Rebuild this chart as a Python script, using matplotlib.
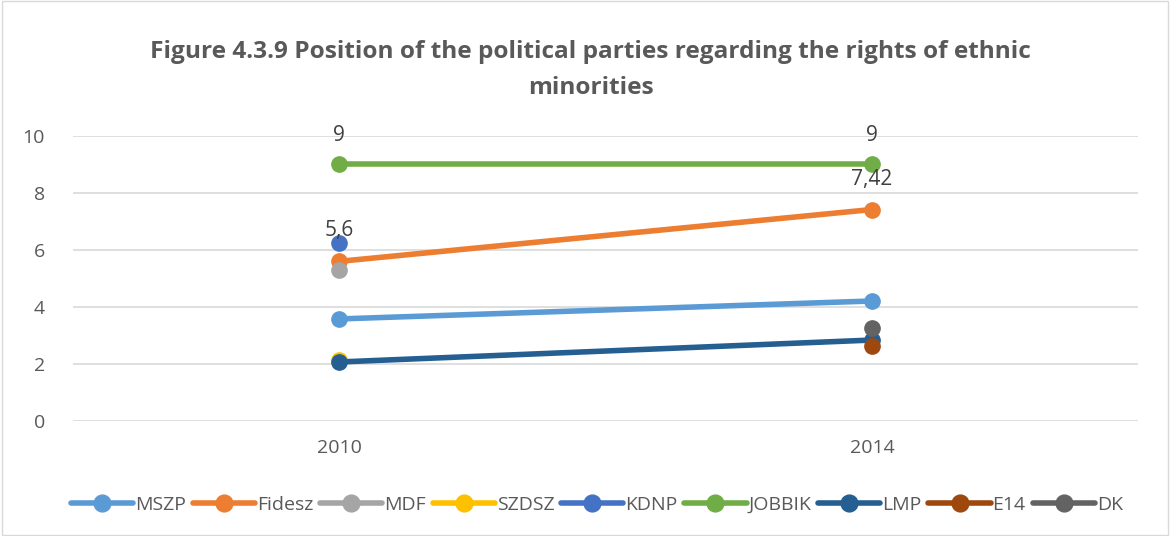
import matplotlib.pyplot as plt
import numpy as np

years = ['2010', '2014']
parties = ['MSZP', 'Fidesz', 'MDF', 'SZDSZ', 'KDNP', 'JOBBIK', 'LMP', 'E14', 'DK']
mszp = [3.58, 4.21]
fidesz = [5.6, 7.42]
mdf = [5.3, np.nan]
szdsz = [2.15, np.nan]
kdnp = [6.25, np.nan]
jobbik = [9, 9]
lmp = [2.07, 2.84]
e14 = [np.nan, 2.63]
dk = [np.nan, 3.26]
colors = ['#5B9BD5', '#ED7D31', '#A5A5A5', '#FFC000', '#4472C4',
          '#70AD47', '#255E91', '#9E480E', '#636363']

series = [mszp, fidesz, mdf, szdsz, kdnp, jobbik, lmp, e14, dk]

plt.rcParams['font.family'] = ['Open Sans', 'DejaVu Sans']

fig = plt.figure(figsize=(11.7, 5.36), dpi=100)
ax = fig.add_axes([0.062, 0.2146, 0.911, 0.5317])

x = np.array([0.5, 1.5])
for name, vals, c in zip(parties, series, colors):
    ax.plot(x, vals, color=c, lw=4, marker='o', ms=11, label=name,
            solid_capstyle='round')

# data labels (only the ones shown)
lab_col = '#404040'
for xi, yi, txt, off in [(x[0], jobbik[0], '9', 21), (x[1], jobbik[1], '9', 21),
                         (x[0], fidesz[0], '5,6', 22.5), (x[1], fidesz[1], '7,42', 21.5)]:
    ax.annotate(txt, (xi, yi), xytext=(0, off), textcoords='offset points',
                ha='center', va='center', fontsize=15, color=lab_col)

ax.set_xlim(0, 2)
ax.set_ylim(0, 10)
ax.set_yticks(range(0, 11, 2))
ax.set_xticks(x)
ax.set_xticklabels(years)
ax.yaxis.grid(True, color='#D9D9D9', lw=1.2)
ax.set_axisbelow(True)
for s in ax.spines.values():
    s.set_visible(False)
ax.tick_params(length=0, labelsize=14, colors='#595959')
ax.tick_params(axis='x', pad=13)
ax.tick_params(axis='y', pad=20)

fig.text(0.505, 0.870, 'Figure 4.3.9 Position of the political parties regarding the rights of ethnic\nminorities',
         ha='center', va='center', fontsize=17.6, fontweight='bold', color='#595959',
         linespacing=1.65)

leg = fig.legend(loc='center', bbox_to_anchor=(0.51, 0.058), ncol=9, frameon=False,
                 fontsize=14, handlelength=3.2, columnspacing=0.35, handletextpad=0.1,
                 labelcolor='#595959', markerscale=1.1)

# outer border
fig.patches.append(plt.Rectangle((0.002, 0.002), 0.996, 0.996, transform=fig.transFigure,
                                 fill=False, edgecolor='#D9D9D9', lw=1))

fig.savefig('out.png', dpi=100)
